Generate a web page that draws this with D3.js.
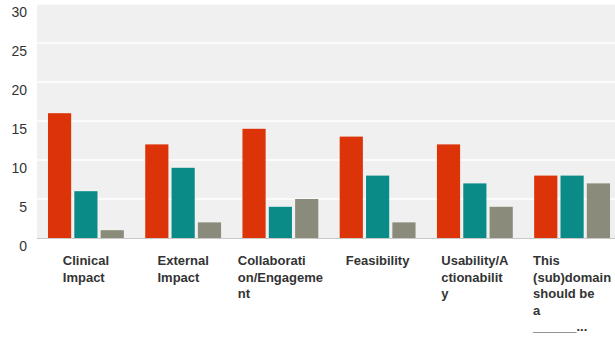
<!DOCTYPE html>
<html>
<head>
<meta charset="utf-8">
<script src="https://cdn.jsdelivr.net/npm/d3@7/dist/d3.min.js"></script>
<style>
  html, body { margin: 0; padding: 0; background: #ffffff; }
  svg { display: block; }
</style>
</head>
<body>
<svg id="chart" width="615" height="339"></svg>
<script>
// ---- data ----
const categories = ["Clinical Impact", "External Impact", "Collaboration/Engagement", "Feasibility", "Usability/Actionability", "This (sub)domain should be a ______..."];
const categoryLabelLines = [
  ["Clinical", "Impact"],
  ["External", "Impact"],
  ["Collaborati", "on/Engageme", "nt"],
  ["Feasibility"],
  ["Usability/A", "ctionabilit", "y"],
  ["This", "(sub)domain", "should be", "a", "______..."]
];
const seriesNames = ["Series 1", "Series 2", "Series 3"];
const series1 = [16, 12, 14, 13, 12, 8];
const series2 = [6, 9, 4, 8, 7, 8];
const series3 = [1, 2, 5, 2, 4, 7];
const yTicks = [0, 5, 10, 15, 20, 25, 30];
const seriesColors = ["#dc3308", "#0b8b88", "#8a8b7a"];

const allSeries = [series1, series2, series3];

// ---- layout ----
const svg = d3.select("#chart");
const plot = { left: 37, right: 621, top: 4, bottom: 238 };

const x = d3.scaleBand()
  .domain(categories)
  .range([plot.left, plot.right])
  .paddingInner(0.22)
  .paddingOuter(0.113);

const xs = d3.scaleBand()
  .domain(seriesNames)
  .range([0, x.bandwidth()])
  .paddingInner(0.12)
  .paddingOuter(0);

const y = d3.scaleLinear()
  .domain([0, 30])
  .range([plot.bottom, plot.top]);

// plot background
svg.append("rect")
  .attr("x", plot.left).attr("y", plot.top)
  .attr("width", 615 - plot.left).attr("height", plot.bottom - plot.top)
  .attr("fill", "#f0f0f0");

// gridlines
svg.append("g")
  .selectAll("line")
  .data(yTicks.filter(t => t > 0))
  .join("line")
  .attr("x1", plot.left).attr("x2", 615)
  .attr("y1", d => y(d)).attr("y2", d => y(d))
  .attr("stroke", "#ffffff")
  .attr("stroke-width", 1.5);

// y axis labels
const yAxis = d3.axisLeft(y).tickValues(yTicks).tickSize(0).tickPadding(0);
const yg = svg.append("g").attr("transform", `translate(27,0)`).call(yAxis);
yg.select(".domain").remove();
yg.selectAll("text")
  .attr("dy", "12.5")
  .attr("font-family", "Liberation Sans, Arial, sans-serif")
  .attr("font-size", 14)
  .attr("fill", "#333333");

// bars
const groups = svg.append("g")
  .selectAll("g")
  .data(categories)
  .join("g")
  .attr("transform", d => `translate(${x(d)},0)`);

groups.selectAll("rect")
  .data((d, i) => allSeries.map((s, j) => ({ name: seriesNames[j], value: s[i], color: seriesColors[j] })))
  .join("rect")
  .attr("x", d => xs(d.name))
  .attr("width", xs.bandwidth())
  .attr("y", d => y(d.value))
  .attr("height", d => y(0) - y(d.value))
  .attr("fill", d => d.color);

// baseline
svg.append("line")
  .attr("x1", plot.left).attr("x2", 615)
  .attr("y1", y(0) + 0.5).attr("y2", y(0) + 0.5)
  .attr("stroke", "#c8c8c8")
  .attr("stroke-width", 1);

// x labels (block centered, lines left aligned)
const labelG = svg.append("g");
categories.forEach((c, i) => {
  const t = labelG.append("text")
    .attr("font-family", "Liberation Sans, Arial, sans-serif")
    .attr("font-size", 13)
    .attr("font-weight", "bold")
    .attr("fill", "#333333");
  const lines = categoryLabelLines[i];
  lines.forEach((ln, k) => {
    t.append("tspan").attr("x", 0).attr("y", 265 + k * 16.5).text(ln);
  });
  const w = d3.max(t.selectAll("tspan").nodes(), n => n.getComputedTextLength());
  const cx = x(c) + x.bandwidth() / 2;
  t.attr("transform", `translate(${cx - w / 2},0)`);
});
</script>
</body>
</html>
